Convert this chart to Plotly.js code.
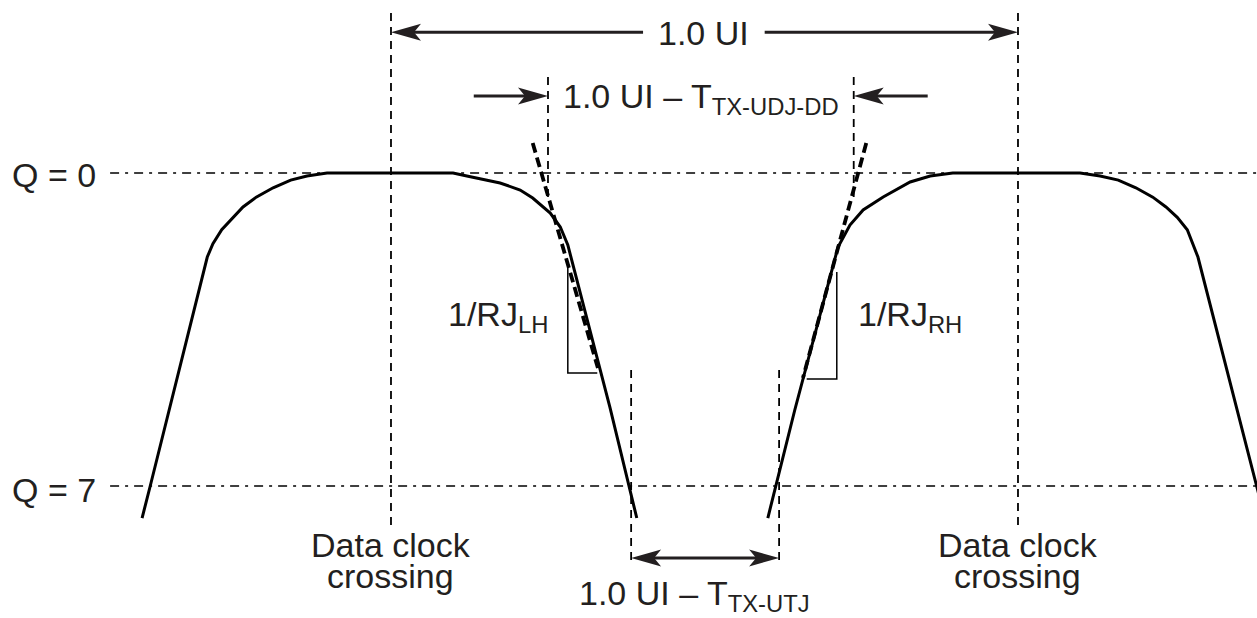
<!DOCTYPE html>
<html>
<head>
<meta charset="utf-8">
<script src="https://cdn.plot.ly/plotly-3.0.1.min.js"></script>
<style>html,body{margin:0;padding:0;background:#fff;}#chart{width:1257px;height:618px;}</style>
</head>
<body>
<div id="chart"></div>
<script>
// ---- Data (x in UI, y in Q) ----
const leftEyeUI = [-0.397,-0.384,-0.293,-0.284,-0.270,-0.252,-0.236,-0.215,-0.188,-0.160,-0.134,-0.102,0.099,0.121,0.174,0.206,0.226,0.254,0.270,0.282,0.349,0.392];
const leftEyeQ  = [7.716,7.0,1.879,1.580,1.270,0.990,0.760,0.540,0.330,0.160,0.067,0,0,0.067,0.224,0.380,0.559,0.895,1.208,1.610,5.233,7.716];
const rightEyeUI = [0.601,0.644,0.713,0.732,0.753,0.785,0.828,0.860,0.896,1.099,1.131,1.160,1.188,1.215,1.236,1.254,1.270,1.279,1.287,1.381,1.394];
const rightEyeQ  = [7.716,5.300,1.655,1.163,0.827,0.537,0.201,0.067,0,0,0.067,0.160,0.330,0.540,0.760,0.990,1.270,1.580,1.879,7.022,7.716];

// tangent (1/RJ) lines
const tangentLeftUI = [0.226,0.330];
const tangentLeftQ  = [-0.671,4.361];
const tangentRightUI = [0.758,0.657];
const tangentRightQ  = [-0.671,4.585];

// slope triangles
const triLeftUI = [0.282,0.282,0.329];
const triLeftQ  = [1.990,4.473,4.473];
const triRightUI = [0.711,0.711,0.663];
const triRightQ  = [2.214,4.607,4.607];

// Q reference levels
const qLevels = [0,7];
const qLevelSpanUI = [-0.448,1.381];

// vertical dashed markers
const markerUI = [0,1,0.2504,0.738,0.383,0.619];
const markerQTop = [-3.578,-3.578,-2.147,-2.147,4.406,4.406];
const markerQBot = [7.984,7.984,0.649,0.649,8.700,8.700];

// dimension arrows
const arrowStartUI = [0.402,0.596,0.132,0.856,0.383];
const arrowTipUI   = [0,1,0.2504,0.738,0.619];
const arrowQ       = [-3.15,-3.15,-1.722,-1.722,8.610];
const arrowDouble  = [false,false,false,false,true];

// text labels
const labelText = ["Q = 0","Q = 7","1.0 UI","1.0 UI – T<sub>TX-UDJ-DD</sub>","1/RJ<sub>LH</sub>","1/RJ<sub>RH</sub>","Data clock","crossing","Data clock","crossing","1.0 UI – T<sub>TX-UTJ</sub>"];
const labelUI   = [-0.467,-0.467,0.498,0.271,0.087,0.741,0,0,1,1,0.296];
const labelQ    = [0.05,7.08,-3.131,-1.66,3.20,3.20,8.33,9.02,8.33,9.02,9.44];
const labelAnchor = ["right","right","center","left","left","left","center","center","center","center","left"];

// ---- Geometry of the view ----
const W = 1257, H = 618;
const xRange = [-0.6236, 1.3812];
const yRange = [9.952, -3.869];
const pxPerUI = W / (xRange[1]-xRange[0]);
const pxPerQ  = H / (yRange[0]-yRange[1]);

const black = '#000';
const textColor = '#231f20';
const traces = [];
function line(x, y, width, dash, color) {
  traces.push({type:'scatter', mode:'lines', x:x, y:y, hoverinfo:'skip',
    line:{color:color||black, width:width, dash:dash||'solid'}});
}

// Q levels (dash-dot)
qLevels.forEach(q => line(qLevelSpanUI, [q,q], 1.6, '9px,6px,3px,6px'));
// vertical markers
markerUI.forEach((u,i) => line([u,u],[markerQTop[i],markerQBot[i]], 1.8, '8px,6px'));
// eyes
line(leftEyeUI, leftEyeQ, 3);
line(rightEyeUI, rightEyeQ, 3);
// tangents
line(tangentLeftUI, tangentLeftQ, 3.8, '10px,5px');
line(tangentRightUI, tangentRightQ, 3.8, '10px,5px');
// triangles
line(triLeftUI, triLeftQ, 1.5);
line(triRightUI, triRightQ, 1.5);

// arrows
const shapes = [];
const headLen = 30/pxPerUI, headHalf = 8.5/pxPerQ, notch = 7/pxPerUI, shaftBack = 18/pxPerUI;
function head(tip, q, dir) {
  const b = tip - dir*headLen, n = tip - dir*(headLen-notch);
  shapes.push({type:'path', xref:'x', yref:'y', fillcolor:textColor, line:{width:0},
    path:`M${tip},${q} L${b},${q-headHalf} L${n},${q} L${b},${q+headHalf} Z`});
}
arrowStartUI.forEach((s,i) => {
  const t = arrowTipUI[i], q = arrowQ[i];
  const dir = Math.sign(t - s);
  const x0 = arrowDouble[i] ? s + dir*shaftBack : s;
  line([x0, t - dir*shaftBack], [q,q], 3, 'solid', textColor);
  head(t, q, dir);
  if (arrowDouble[i]) head(s, q, -dir);
});

const annotations = labelText.map((t,i) => ({
  text:t, x:labelUI[i], y:labelQ[i], xref:'x', yref:'y', showarrow:false,
  xanchor:labelAnchor[i], yanchor:'middle',
  font:{family:'Liberation Sans, Arial, sans-serif', size:34, color:textColor}
}));

const layout = {
  width:W, height:H, margin:{l:0,r:0,t:0,b:0},
  paper_bgcolor:'#fff', plot_bgcolor:'#fff', showlegend:false,
  xaxis:{range:xRange, visible:false, showgrid:false, zeroline:false, fixedrange:true},
  yaxis:{range:yRange, visible:false, showgrid:false, zeroline:false, fixedrange:true},
  shapes:shapes, annotations:annotations
};
Plotly.newPlot('chart', traces, layout, {staticPlot:true, displayModeBar:false});
</script>
</body>
</html>
